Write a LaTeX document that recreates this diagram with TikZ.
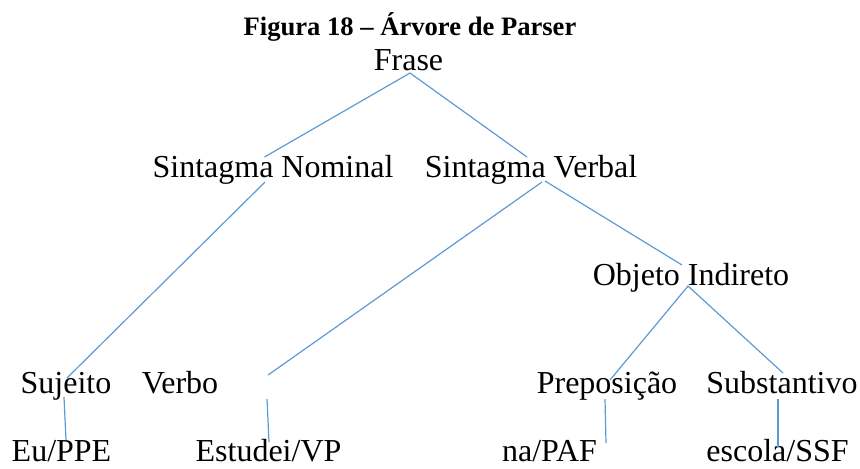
\documentclass[tikz,border=0pt]{standalone}
\usepackage{fontspec}
\setmainfont{Liberation Serif}
\definecolor{linkblue}{RGB}{91,155,213}
\tikzset{
    word/.style={anchor=base, inner sep=0pt, font=\fontsize{16}{19}\selectfont},
    caption/.style={anchor=base, inner sep=0pt, font=\fontsize{13.3}{16}\selectfont\bfseries},
    branch/.style={draw=linkblue, line width=0.6pt}
}
\begin{document}
\begin{tikzpicture}[x=0.5pt, y=-0.5pt]
    \useasboundingbox (0,0) rectangle (860,468);
    \node[caption] (title) at (410,35) {Figura 18 -- Árvore de Parser};
    \node[word] (frase) at (408.5,70) {Frase};
    \node[word] (sn) at (273,177) {Sintagma Nominal};
    \node[word] (sv) at (531,177) {Sintagma Verbal};
    \node[word] (oi) at (691,285) {Objeto Indireto};
    \node[word] (suj) at (66,393) {Sujeito};
    \node[word] (verbo) at (180,393) {Verbo};
    \node[word] (prep) at (607,393) {Preposição};
    \node[word] (subs) at (782,393) {Substantivo};
    \node[word] (eu) at (61.5,461) {Eu/PPE};
    \node[word] (est) at (268.5,461) {Estudei/VP};
    \node[word] (na) at (549.5,461) {na/PAF};
    \node[word] (esc) at (777.5,461) {escola/SSF};
    \coordinate (vtip) at (268,375);
    \coordinate (vfoot) at (267,399);
    \draw[branch] ([shift={(-8.5,-20)}]sn.base) -- ([shift={(1.5,3)}]frase.base) -- ([shift={(-4,-20)}]sv.base);
    \draw[branch] ([shift={(-8,5)}]sn.base) -- ([shift={(1,-15)}]suj.base);
    \draw[branch] ([shift={(11,5)}]sv.base) -- (vtip);
    \draw[branch] ([shift={(14,4)}]sv.base) -- ([shift={(-9,-20)}]oi.base);
    \draw[branch] ([shift={(3,-13)}]prep.base) -- ([shift={(-3,1)}]oi.base) -- ([shift={(1,-20)}]subs.base);
    \draw[branch] ([shift={(-2,4)}]suj.base) -- ([shift={(4.5,-21)}]eu.base);
    \draw[branch] (vfoot) -- ([shift={(0.5,-19)}]est.base);
    \draw[branch] ([shift={(-2,6)}]prep.base) -- ([shift={(56.5,-18)}]na.base);
    \draw[branch] ([shift={(-4,6)}]subs.base) -- ([shift={(0.5,-14)}]esc.base);
\end{tikzpicture}
\end{document}
